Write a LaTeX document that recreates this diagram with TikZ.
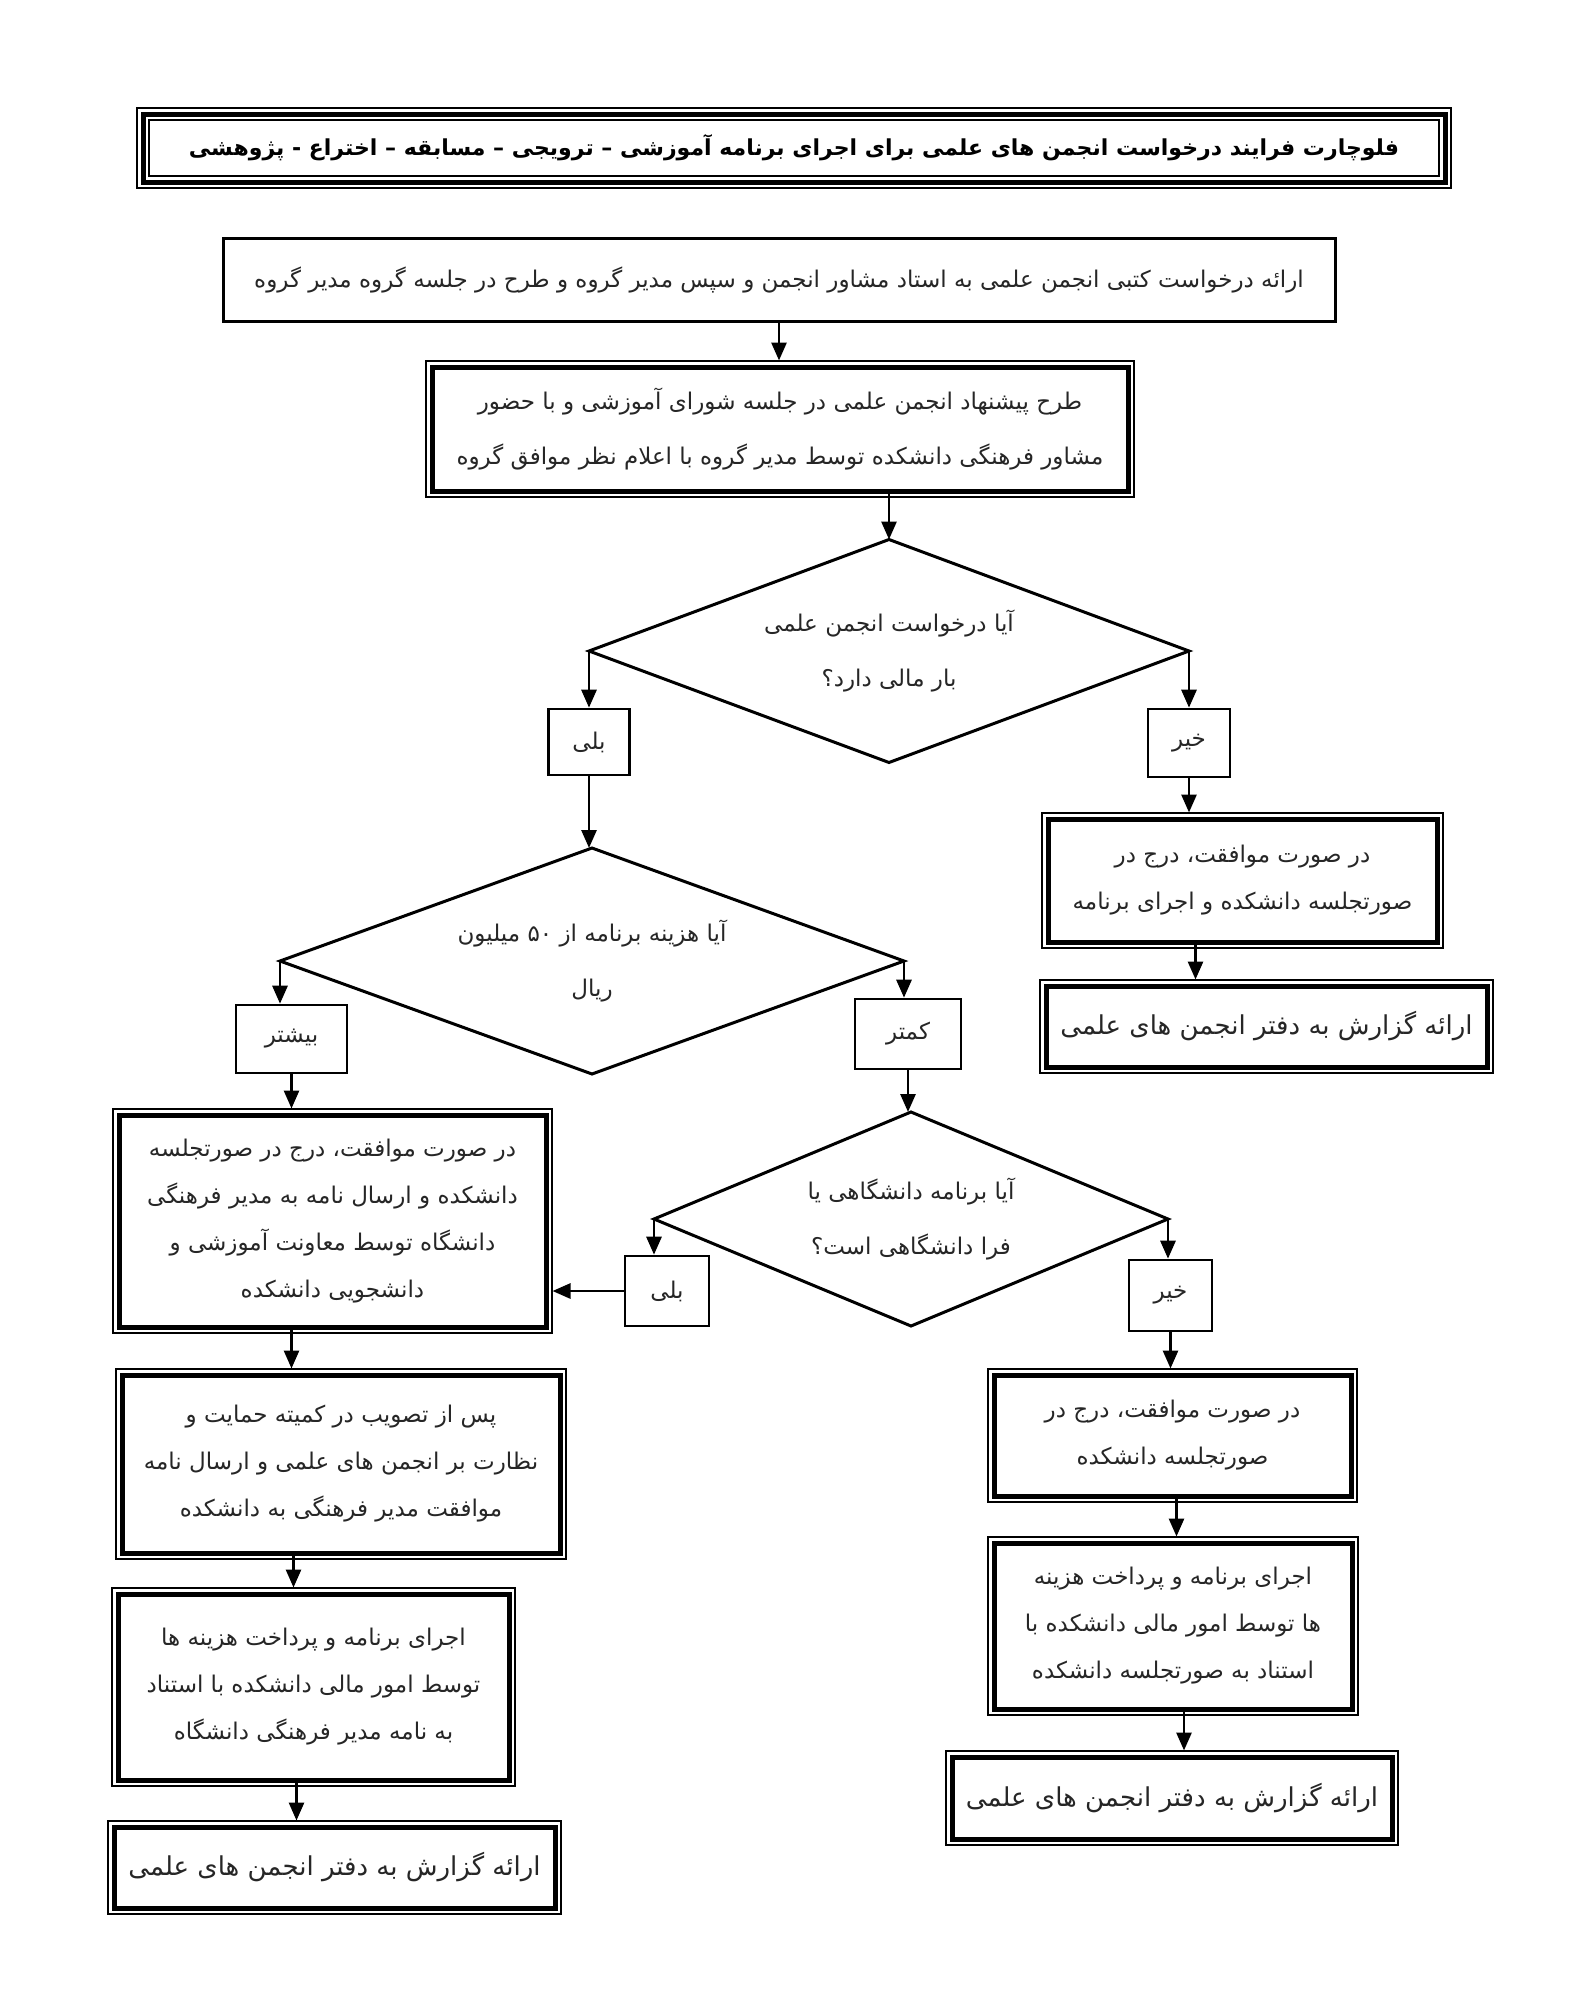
\documentclass[tikz,border=0pt]{standalone}
\usepackage{fontspec}
\usetikzlibrary{arrows.meta,shapes.geometric,calc}
\TeXXeTstate=1
\newfontfamily\farsi[Script=Arabic]{DejaVu Sans}
\newfontfamily\farsib[Script=Arabic]{DejaVu Sans Bold}
\newcommand\myrl[1]{\beginR #1\endR}
\begin{document}
\begin{tikzpicture}[x=1pt,y=-1pt,
  txt/.style={align=center,text=black!85,font=\farsi\fontsize{23}{47}\selectfont},
  onebox/.style={txt,draw,line width=3pt,inner sep=0pt},
  tagbox/.style={txt,draw,line width=2.6pt,inner sep=0pt},
  dbl/.style={txt,draw,line width=5pt,inner sep=0pt},
  dia/.style={txt,draw,line width=3pt,shape=diamond,aspect=2.7,inner sep=0pt,outer sep=0pt},
  arr/.style={line width=2.8pt,-{Triangle[width=15pt,length=18pt]}},
  arrd/.style={arr,shorten >=4pt},
  wide/.style={font=\farsi\fontsize{23}{55}\selectfont},
  report/.style={font=\farsi\fontsize{26}{32}\selectfont},
  frame/.style={line width=1.3pt}]
\fill[white] (0,0) rectangle (1584,2000);
\useasboundingbox (0,0) rectangle (1584,2000);

% title
\node[draw,line width=5pt,inner sep=0pt,minimum width=1302pt,minimum height=68pt,
  font=\farsib\fontsize{22}{28}\selectfont] (title) at (794,148)
  {\myrl{فلوچارت فرایند درخواست انجمن های علمی برای اجرای برنامه آموزشی – ترویجی – مسابقه – اختراع - پژوهشی}};

\node[onebox,minimum width=1112pt,minimum height=83pt] (b1) at (779,279.5)
  {\myrl{ارائه درخواست کتبی انجمن علمی به استاد مشاور انجمن و سپس مدیر گروه و طرح در جلسه گروه مدیر گروه}};

\node[dbl,wide,minimum width=696pt,minimum height=124pt] (b2) at (780,429)
  {\myrl{طرح پیشنهاد انجمن علمی در جلسه شورای آموزشی و با حضور}\\
   \myrl{مشاور فرهنگی دانشکده توسط مدیر گروه با اعلام نظر موافق گروه}};

\node[dia,wide,minimum width=600pt,minimum height=223pt] (d1) at (889,651)
  {\myrl{آیا درخواست انجمن علمی}\\ \myrl{بار مالی دارد؟}};

\node[tagbox,minimum width=81pt,minimum height=66pt] (yes1) at (589,742) {\myrl{بلی}};
\node[tagbox,minimum width=82pt,minimum height=68pt] (no1) at (1189,743) {\myrl{خیر}};

\node[dbl,minimum width=389pt,minimum height=123pt] (r1) at (1242.5,880.5)
  {\myrl{در صورت موافقت، درج در}\\ \myrl{صورتجلسه دانشکده و اجرای برنامه}};

\node[dbl,report,minimum width=441pt,minimum height=81pt] (rep1) at (1266.5,1026.5)
  {\myrl{ارائه گزارش به دفتر انجمن های علمی}};

\node[dia,wide,minimum width=624pt,minimum height=226pt] (d2) at (592,961)
  {\myrl{آیا هزینه برنامه از ۵۰ میلیون}\\ \myrl{ریال}};

\node[tagbox,minimum width=111pt,minimum height=68pt] (more) at (291.5,1039) {\myrl{بیشتر}};
\node[tagbox,minimum width=106pt,minimum height=70pt] (less) at (908,1034) {\myrl{کمتر}};

\node[dbl,minimum width=427pt,minimum height=212pt] (l1) at (332.5,1221)
  {\myrl{در صورت موافقت، درج در صورتجلسه}\\
   \myrl{دانشکده و ارسال نامه به مدیر فرهنگی}\\
   \myrl{دانشگاه توسط معاونت آموزشی و}\\
   \myrl{دانشجویی دانشکده}};

\node[dia,wide,minimum width=514pt,minimum height=214pt] (d3) at (911,1219)
  {\myrl{آیا برنامه دانشگاهی یا}\\ \myrl{فرا دانشگاهی است؟}};

\node[tagbox,minimum width=84pt,minimum height=70pt] (yes2) at (667,1291) {\myrl{بلی}};
\node[tagbox,minimum width=83pt,minimum height=71pt] (no2) at (1170.5,1295.5) {\myrl{خیر}};

\node[dbl,minimum width=438pt,minimum height=178pt] (l2) at (341,1464)
  {\myrl{پس از تصویب در کمیته حمایت و}\\
   \myrl{نظارت بر انجمن های علمی و ارسال نامه}\\
   \myrl{موافقت مدیر فرهنگی به دانشکده}};

\node[dbl,minimum width=391pt,minimum height=186pt] (l3) at (313.5,1687)
  {\myrl{اجرای برنامه و پرداخت هزینه ها}\\
   \myrl{توسط امور مالی دانشکده با استناد}\\
   \myrl{به نامه مدیر فرهنگی دانشگاه}};

\node[dbl,report,minimum width=441pt,minimum height=81pt] (rep3) at (334.5,1867.5)
  {\myrl{ارائه گزارش به دفتر انجمن های علمی}};

\node[dbl,minimum width=357pt,minimum height=121pt] (r2) at (1172.5,1435.5)
  {\myrl{در صورت موافقت، درج در}\\ \myrl{صورتجلسه دانشکده}};

\node[dbl,minimum width=358pt,minimum height=166pt] (r3) at (1173,1626)
  {\myrl{اجرای برنامه و پرداخت هزینه}\\
   \myrl{ها توسط امور مالی دانشکده با}\\
   \myrl{استناد به صورتجلسه دانشکده}};

\node[dbl,report,minimum width=440pt,minimum height=82pt] (rep2) at (1172,1798)
  {\myrl{ارائه گزارش به دفتر انجمن های علمی}};

% outer thin frames of double boxes
\foreach \n in {b2,r1,rep1,l1,l2,l3,rep3,r2,r3,rep2}
  \draw[frame] ([xshift=-3.5pt,yshift=3.5pt]\n.north west) rectangle ([xshift=3.5pt,yshift=-3.5pt]\n.south east);
% title triple frame
\draw[frame] ([xshift=-3.5pt,yshift=3.5pt]title.north west) rectangle ([xshift=3.5pt,yshift=-3.5pt]title.south east);
\draw[frame] ([xshift=8.5pt,yshift=-8.5pt]title.north west) rectangle ([xshift=-8.5pt,yshift=8.5pt]title.south east);

% connectors
\draw[arrd] (b1.south) -- (b1.south |- b2.north);
\draw[arr] (b2.south -| d1.north) -- (d1.north);
\draw[arr] (d1.west) -- (d1.west |- yes1.north);
\draw[arr] (d1.east) -- (d1.east |- no1.north);
\draw[arrd] (no1.south) -- (no1.south |- r1.north);
\draw[arrd] ([xshift=-47pt]r1.south) -- ([xshift=-47pt]r1.south |- rep1.north);
\draw[arr] (yes1.south) -- (yes1.south |- d2.north);
\draw[arr] (d2.west) -- (d2.west |- more.north);
\draw[arr] (d2.east) -- (d2.east |- less.north);
\draw[arrd] (more.south) -- (more.south |- l1.north);
\draw[arr] (less.south) -- (less.south |- d3.north);
\draw[arr] (d3.west) -- (d3.west |- yes2.north);
\draw[arr] (d3.east) -- (d3.east |- no2.north);
\draw[arrd] (yes2.west) -- (yes2.west -| l1.east);
\draw[arrd] (no2.south) -- (no2.south |- r2.north);
\draw[arrd] (l1.south -| more.south) -- (l2.north -| more.south);
\draw[arrd] ([xshift=2pt]l2.south -| more.south) -- ([xshift=2pt]l3.north -| more.south);
\draw[arrd] ([xshift=5pt]l3.south -| more.south) -- ([xshift=5pt]rep3.north -| more.south);
\draw[arrd] ([xshift=4pt]r2.south) -- ([xshift=4pt]r2.south |- r3.north);
\draw[arrd] ([xshift=11pt]r3.south) -- ([xshift=11pt]r3.south |- rep2.north);
\end{tikzpicture}
\end{document}
